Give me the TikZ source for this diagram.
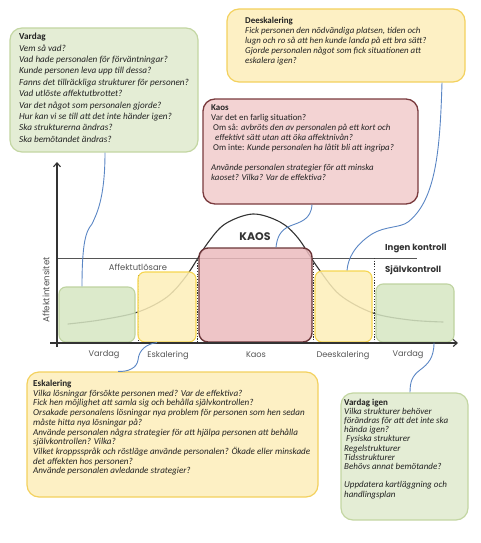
\documentclass[tikz,border=0pt]{standalone}
\usepackage{fontspec}
\setmainfont{Carlito}
\newfontfamily\chartfont{Poppins}
\usetikzlibrary{arrows.meta,calc}
\definecolor{gfill}{HTML}{E4EDD5}
\definecolor{gline}{HTML}{C3D6A2}
\definecolor{cgfill}{HTML}{D6E6C2}
\definecolor{cgline}{HTML}{BED3A0}
\definecolor{yfill}{HTML}{FDF0C4}
\definecolor{yline}{HTML}{F3D15E}
\definecolor{cyfill}{HTML}{FDEFB9}
\definecolor{cyline}{HTML}{F6D650}
\definecolor{rfill}{HTML}{F3D3D3}
\definecolor{rline}{HTML}{7A3B3E}
\definecolor{crfill}{HTML}{EBBBBD}
\definecolor{crline}{HTML}{6A3538}
\definecolor{connblue}{HTML}{5A86C4}
\definecolor{txtcol}{HTML}{222222}
\definecolor{labgray}{HTML}{555555}
\definecolor{axiscol}{HTML}{333333}
\tikzset{
  gbox/.style={draw=gline, fill=gfill, rounded corners=12pt, line width=1.2pt, inner sep=0pt},
  ybox/.style={draw=yline, fill=yfill, rounded corners=12pt, line width=1.2pt, inner sep=0pt},
  rbox/.style={draw=rline, fill=rfill, rounded corners=12pt, line width=1.3pt, inner sep=0pt},
  cgbox/.style={draw=cgline, fill=cgfill, fill opacity=0.85, rounded corners=7pt, line width=1.1pt, inner sep=0pt},
  cybox/.style={draw=cyline, fill=cyfill, fill opacity=0.85, rounded corners=7pt, line width=1.1pt, inner sep=0pt},
  crbox/.style={draw=crline, fill=crfill, fill opacity=0.85, rounded corners=9pt, line width=1.4pt, inner sep=0pt},
  txt/.style={anchor=north west, inner sep=0pt, align=left, text=txtcol},
  conn/.style={draw=connblue, line width=0.9pt},
  clabel/.style={font=\chartfont\fontsize{8.2}{9}\selectfont, text=labgray, inner sep=0pt},
  ctrl/.style={clabel, anchor=west, font=\chartfont\bfseries\fontsize{8.6}{9}\selectfont, text=axiscol},
  divider/.style={draw=axiscol, line width=0.8pt, dash pattern=on 1.2pt off 1.5pt},
  axis/.style={draw=axiscol, line width=1.1pt, -{Straight Barb[length=4pt,width=7pt]}},
}
\begin{document}
\begin{tikzpicture}[x=1pt,y=-1pt]
\useasboundingbox (0,0) rectangle (480,543);
% ---------- chart ----------
\draw[draw=labgray, line width=0.9pt] (57,258) coordinate (hl) -- (417,258) coordinate (hr);
\draw[axiscol, line width=1.1pt, line cap=round] plot[smooth, tension=0.55] coordinates {(68,324) (100,320) (138,312) (167,297) (187,275) (207,244) (225,224) (253,214) (280,222) (298,238) (318,268) (340,295) (373,313) (410,320) (443,322)};
\draw[divider] (138,275) -- (138,343);
\draw[divider] (197,260) -- (197,343);
\draw[divider] (313,258) -- (313,343);
\draw[divider] (374,258) -- (374,343);
\node[cgbox, minimum width=76pt, minimum height=55pt] (cv1) at (97,314.5) {};
\node[cybox, minimum width=58pt, minimum height=70pt] (ce) at (167,307) {};
\node[crbox, minimum width=113pt, minimum height=94pt] (ck) at (255.5,295) {};
\node[cybox, minimum width=57pt, minimum height=71pt] (cd) at (343.5,306.5) {};
\node[cgbox, minimum width=78pt, minimum height=58pt] (cv2) at (415,313) {};
\coordinate (yb) at (57,347);
\coordinate (yt) at (57,162);
\coordinate (xl) at (50,343);
\coordinate (xr) at (458,343);
\draw[axis] (yb) -- (yt);
\draw[axis] (xl) -- (xr);
\node[clabel] (l1) at (104,355) {Vardag};
\node[clabel] (l2) at (168,355) {Eskalering};
\node[clabel] (l3) at (256,355) {Kaos};
\node[clabel] (l4) at (343,355) {Deeskalering};
\node[clabel] (l5) at (408,355) {Vardag};
\node[clabel, font=\chartfont\fontsize{8.4}{9}\selectfont] (aff) at (138,267) {Affektutlösare};
\node[clabel, rotate=90, font=\chartfont\fontsize{8.8}{9}\selectfont] (yl) at (46,290) {Affektintensitet};
\node[ctrl] (ik) at (385,248) {Ingen kontroll};
\node[ctrl] (sk) at (385,270) {Självkontroll};
\node[clabel, font=\chartfont\bfseries\fontsize{11}{12}\selectfont, text=axiscol] (kaosl) at (255,237) {KAOS};
% ---------- boxes ----------
\node[gbox, minimum width=188pt, minimum height=124pt] (vbox) at (104,90) {};
\node[ybox, minimum width=238pt, minimum height=73pt] (dbox) at (346,45.5) {};
\node[rbox, minimum width=215pt, minimum height=105pt] (kbox) at (310.5,151.5) {};
\node[ybox, minimum width=291pt, minimum height=125pt] (ebox) at (172.5,434.5) {};
\node[gbox, minimum width=127pt, minimum height=127pt] (vibox) at (404.5,456.5) {};
% ---------- texts ----------
\node[txt, font=\fontsize{9.2}{11.4}\selectfont] (vtxt) at (19,33) {\textbf{Vardag}\\
\textit{Vem så vad?}\\
\textit{Vad hade personalen för förväntningar?}\\
\textit{Kunde personen leva upp till dessa?}\\
\textit{Fanns det tillräckliga strukturer för personen?}\\
\textit{Vad utlöste affektutbrottet?}\\
\textit{Var det något som personalen gjorde?}\\
\textit{Hur kan vi se till att det inte händer igen?}\\
\textit{Ska strukturerna ändras?}\\
\textit{Ska bemötandet ändras?}};
\node[txt, font=\fontsize{8.9}{10}\selectfont] (dtxt) at (245,17) {\textbf{Deeskalering}\\
\textit{Fick personen den nödvändiga platsen, tiden och}\\
\textit{lugn och ro så att hen kunde landa på ett bra sätt?}\\
\textit{Gjorde personalen något som fick situationen att}\\
\textit{eskalera igen?}};
\node[txt, font=\fontsize{8.9}{10}\selectfont] (ktxt) at (211,105) {\textbf{Kaos}\\
Var det en farlig situation?\\
\hspace{2pt}Om så: \textit{avbröts den av personalen på ett kort och}\\
\hspace{4pt}\textit{effektivt sätt utan att öka affektnivån?}\\
\hspace{2pt}Om inte: \textit{Kunde personalen ha låtit bli att ingripa?}\\[10pt]
\textit{Använde personalen strategier för att minska}\\
\textit{kaoset? Vilka? Var de effektiva?}};
\node[txt, font=\fontsize{9.1}{9.7}\selectfont] (etxt) at (33,380) {\textbf{Eskalering}\\
\textit{Vilka lösningar försökte personen med? Var de effektiva?}\\
\textit{Fick hen möjlighet att samla sig och behålla självkontrollen?}\\
\textit{Orsakade personalens lösningar nya problem för personen som hen sedan}\\
\textit{måste hitta nya lösningar på?}\\
\textit{Använde personalen några strategier för att hjälpa personen att behålla}\\
\textit{självkontrollen? Vilka?}\\
\textit{Vilket kroppsspråk och röstläge använde personalen? Ökade eller minskade}\\
\textit{det affekten hos personen?}\\
\textit{Använde personalen avledande strategier?}};
\node[txt, font=\fontsize{9}{9.2}\selectfont] (vitxt) at (344,398.5) {\textbf{Vardag igen}\\
\textit{Vilka strukturer behöver}\\
\textit{förändras för att det inte ska}\\
\textit{hända igen?}\\
\hspace{2pt}\textit{Fysiska strukturer}\\
\textit{Regelstrukturer}\\
\textit{Tidsstrukturer}\\
\textit{Behövs annat bemötande?}\\[9.2pt]
\textit{Uppdatera kartläggning och}\\
\textit{handlingsplan}};
% ---------- connectors ----------
\draw[conn] ([xshift=1pt]vbox.south) .. controls (105,200) and (96,215) .. (92,224) .. controls (86,231) and (82,242) .. ([xshift=-15pt]cv1.north);
\draw[conn] ([xshift=1.5pt]kbox.south) .. controls (311,220) and (300,222) .. (290,226) .. controls (280,230) and (277,238) .. ([xshift=20.5pt]ck.north);
\draw[conn] ([xshift=96pt]dbox.south) .. controls (440,150) and (436,200) .. (408,222) .. controls (400,228) and (385,226) .. (372,234) .. controls (355,245) and (348,258) .. ([xshift=3.5pt]cd.north);
\draw[conn] ([xshift=-10pt]ce.south) .. controls (146,344) and (139,350) .. (138,360) .. controls (137,368) and (128,372) .. ([xshift=-54.5pt]ebox.north);
\draw[conn] ([xshift=19pt]cv2.south) .. controls (434,358) and (428,364) .. (420,370) .. controls (412,376) and (410,382) .. ([xshift=5.5pt]vibox.north);
\end{tikzpicture}
\end{document}
